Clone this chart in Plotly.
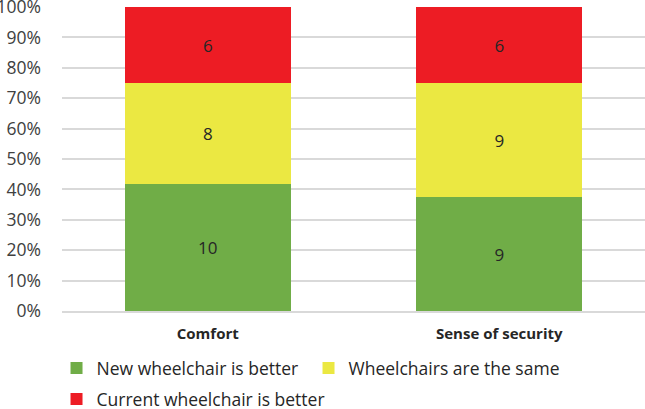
import plotly.graph_objects as go

categories = ["Comfort", "Sense of security"]
series_names = ["New wheelchair is better", "Wheelchairs are the same", "Current wheelchair is better"]
new_better = [10, 9]
same = [8, 9]
current_better = [6, 6]
tick_vals = [0, 10, 20, 30, 40, 50, 60, 70, 80, 90, 100]
tick_text = [f"{v}%" for v in tick_vals]

colors = ["#70AD47", "#EBE842", "#ED1C24"]
values = [new_better, same, current_better]
legends = ["legend", "legend", "legend2"]

fig = go.Figure()
for name, vals, col, lg in zip(series_names, values, colors, legends):
    fig.add_trace(go.Bar(
        x=categories, y=vals, name=name, legend=lg,
        marker=dict(color=col, line=dict(width=0)),
        text=[str(v) for v in vals], textposition="inside", insidetextanchor="middle",
        textfont=dict(size=17, color="#262626", family="Open Sans"),
        hoverinfo="skip",
    ))

legend_common = dict(orientation="h", xanchor="left", yanchor="middle", itemwidth=30,
                     font=dict(size=17.5, color="#262626", family="Open Sans"),
                     traceorder="normal", bgcolor="rgba(0,0,0,0)")

fig.update_layout(
    barmode="stack", barnorm="percent", bargap=0.43,
    width=645, height=409,
    margin=dict(l=62, r=0, t=7, b=98, autoexpand=False),
    paper_bgcolor="white", plot_bgcolor="white",
    font=dict(family="Open Sans", color="#404040", size=16),
    showlegend=True,
    legend=dict(x=-0.0094, y=-0.1875, entrywidth=207, entrywidthmode="pixels", **legend_common),
    legend2=dict(x=-0.0094, y=-0.2895, **legend_common),
    uniformtext=dict(minsize=17, mode="show"),
)
fig.update_yaxes(range=[0, 100], tickvals=tick_vals, ticktext=tick_text,
                 showgrid=True, gridcolor="#D9D9D9", gridwidth=1.5, zeroline=False,
                 showline=False, ticks="", ticklabelstandoff=20,
                 ticklabeloverflow="allow",
                 tickfont=dict(size=17.5, color="#404040"))
fig.update_xaxes(showline=True, linecolor="#D9D9D9", linewidth=1.5, ticks="",
                 tickfont=dict(size=15, color="#262626", family="Open Sans", weight="bold"),
                 ticklabelstandoff=8)

fig.write_html("out.html", config={"displayModeBar": False},
               post_script="document.body.style.margin='0px';document.body.style.overflow='hidden';")
